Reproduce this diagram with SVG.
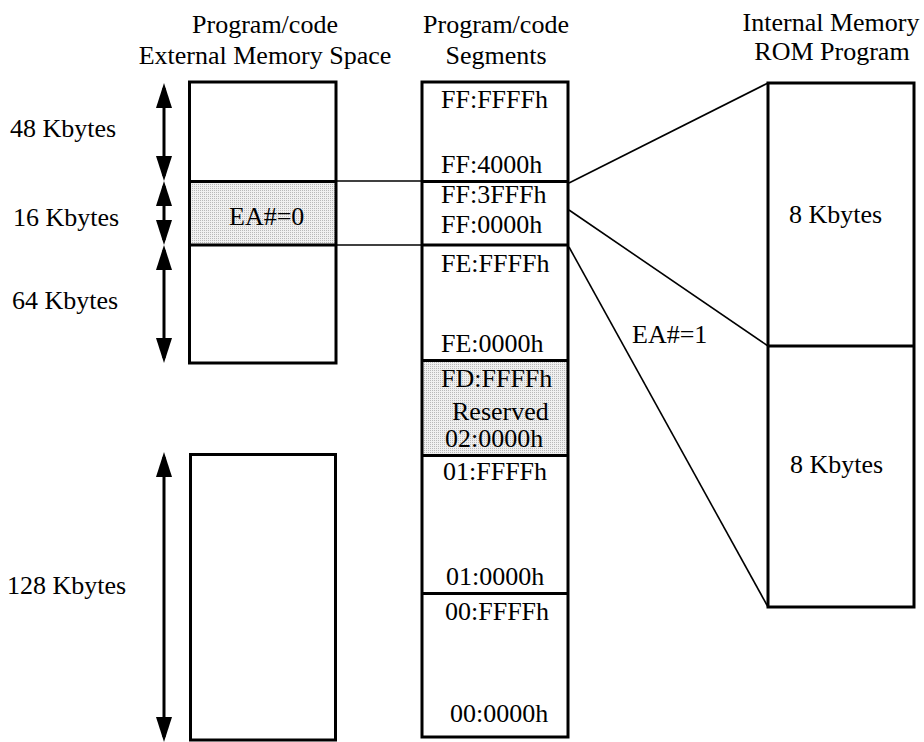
<svg xmlns="http://www.w3.org/2000/svg" width="924" height="742" viewBox="0 0 924 742">
<style>
text{font-family:"Liberation Serif","Times New Roman",serif;font-size:26px;fill:#000}
.box{fill:none;stroke:#000;stroke-width:3}
.div{stroke:#000;stroke-width:3}
.con{stroke:#000;stroke-width:1.6;fill:none}
.arr{stroke:#000;stroke-width:3;marker-start:url(#ah);marker-end:url(#ah)}
.shade{fill:url(#dots)}
.mid{text-anchor:middle}
</style>
<defs>
<pattern id="dots" width="2" height="2" patternUnits="userSpaceOnUse">
<rect width="2" height="2" fill="#f0f0f0"/>
<rect width="1" height="1" fill="#b8b8b8"/>
</pattern>
<marker id="ah" viewBox="0 0 25 16" refX="20" refY="8" markerWidth="25" markerHeight="16" markerUnits="userSpaceOnUse" orient="auto-start-reverse">
<path d="M0,0 L25,8 L0,16 z" fill="#000"/>
</marker>
</defs>

<g id="titles">
<text x="265" y="33" class="mid">Program/code</text>
<text x="265" y="64" class="mid">External Memory Space</text>
<text x="496" y="33" class="mid">Program/code</text>
<text x="496" y="64" class="mid">Segments</text>
<text x="831" y="31" class="mid">Internal Memory</text>
<text x="832" y="60" class="mid">ROM Program</text>
</g>

<g id="size-labels">
<text x="10" y="137">48 Kbytes</text>
<text x="13" y="226">16 Kbytes</text>
<text x="12" y="309">64 Kbytes</text>
<text x="7" y="594">128 Kbytes</text>
</g>

<g id="size-arrows">
<line class="arr" x1="164" y1="88" x2="164" y2="176"/>
<line class="arr" x1="164" y1="186" x2="164" y2="240"/>
<line class="arr" x1="164" y1="250" x2="164" y2="358"/>
<line class="arr" x1="164" y1="457" x2="164" y2="737"/>
</g>

<g id="external-space">
<rect class="shade" x="190" y="182" width="145" height="62"/>
<rect class="box" x="189.5" y="82" width="146.5" height="281"/>
<line class="div" x1="189.5" y1="181.5" x2="336" y2="181.5"/>
<line class="div" x1="189.5" y1="245" x2="336" y2="245"/>
<text x="229" y="225">EA#=0</text>
</g>

<g id="external-space-low">
<rect class="box" x="190.5" y="454.5" width="145" height="285.5"/>
</g>

<g id="segments">
<rect class="shade" x="423" y="361" width="144" height="94"/>
<rect class="box" x="422" y="82" width="146" height="655"/>
<line class="div" x1="422" y1="181.5" x2="568" y2="181.5"/>
<line class="div" x1="422" y1="245" x2="568" y2="245"/>
<line class="div" x1="422" y1="360.5" x2="568" y2="360.5"/>
<line class="div" x1="422" y1="455.5" x2="568" y2="455.5"/>
<line class="div" x1="422" y1="593.5" x2="568" y2="593.5"/>
<text x="441" y="108">FF:FFFFh</text>
<text x="441" y="173">FF:4000h</text>
<text x="441" y="203">FF:3FFFh</text>
<text x="441" y="233">FF:0000h</text>
<text x="441" y="272">FE:FFFFh</text>
<text x="441" y="352">FE:0000h</text>
<text x="441" y="387">FD:FFFFh</text>
<text x="452" y="420">Reserved</text>
<text x="445" y="447">02:0000h</text>
<text x="443" y="480">01:FFFFh</text>
<text x="446" y="585">01:0000h</text>
<text x="445" y="620">00:FFFFh</text>
<text x="450" y="722">00:0000h</text>
</g>

<g id="internal-rom">
<rect class="box" x="768" y="83" width="146" height="524"/>
<line class="div" x1="768" y1="346" x2="914" y2="346"/>
<text x="789" y="223">8 Kbytes</text>
<text x="790" y="473">8 Kbytes</text>
</g>

<g id="connectors">
<line class="con" x1="336" y1="181" x2="422" y2="181"/>
<line class="con" x1="336" y1="245" x2="422" y2="245"/>
<line class="con" x1="569" y1="183" x2="768" y2="83"/>
<line class="con" x1="569" y1="210" x2="768" y2="346"/>
<line class="con" x1="569" y1="247" x2="768" y2="607"/>
<text x="632" y="343">EA#=1</text>
</g>
</svg>
